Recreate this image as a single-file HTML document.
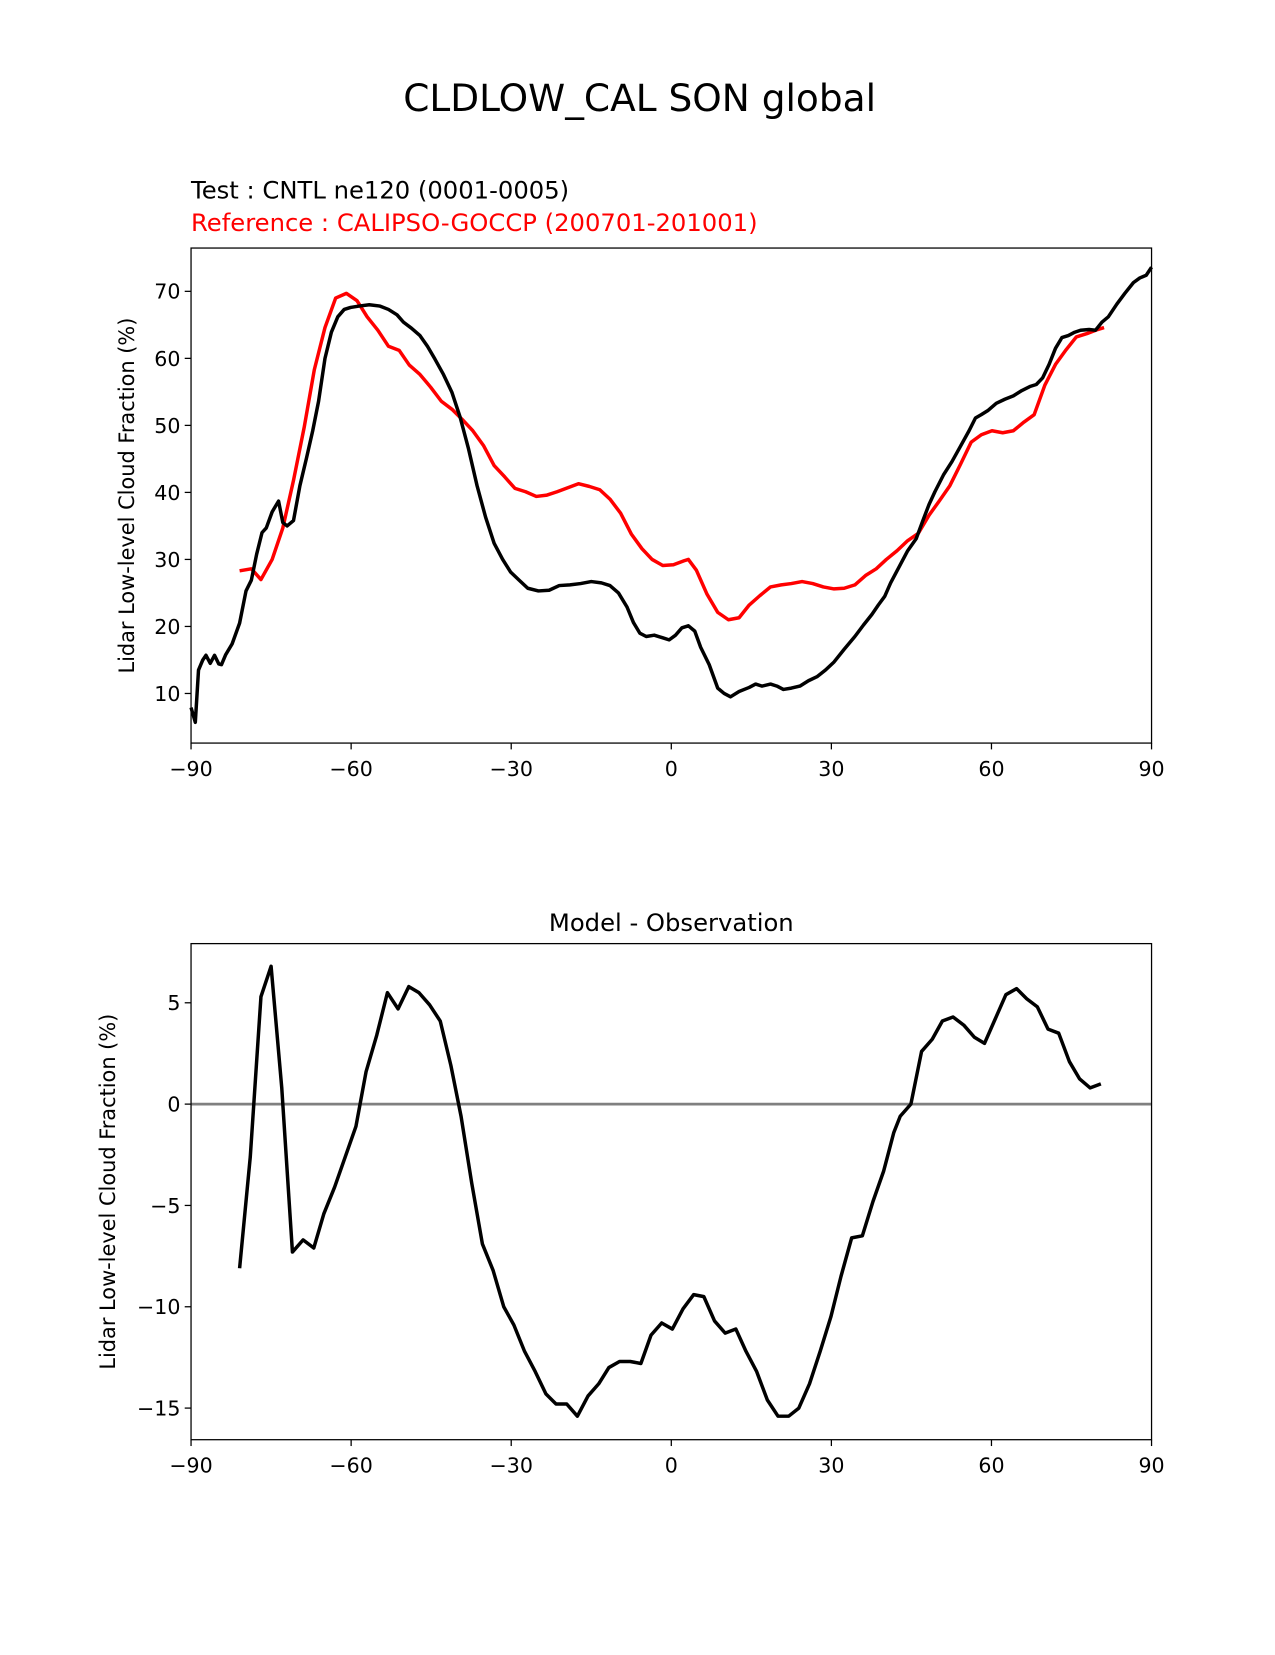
<!DOCTYPE html>
<html><head><meta charset="utf-8"><style>
body{margin:0;background:#fff}
svg text{font-family:"DejaVu Sans","Liberation Sans",sans-serif;fill:#000}
</style></head><body>
<svg id="c" width="1275" height="1650" xmlns="http://www.w3.org/2000/svg">
<g transform="scale(1.0555)">
<text x="606" y="105" font-size="35.5" text-anchor="middle">CLDLOW_CAL SON global</text>
<text x="181" y="188" font-size="23">Test : CNTL ne120 (0001-0005)</text>
<text x="181" y="219" font-size="23" style="fill:#f00">Reference : CALIPSO-GOCCP (200701-201001)</text>
<text x="636" y="882" font-size="23" text-anchor="middle">Model - Observation</text>
<g id="g1"></g>
<g id="g2"></g>
</g>
</svg>
<script>
const latModel=[-90,-89.2,-88.6,-87.8,-87.2,-86.4,-85.6,-84.8,-84.3,-83.5,-82.3,-80.9,-79.7,-78.7,-77.7,-76.7,-75.9,-74.8,-73.6,-72.8,-72.0,-70.8,-69.6,-68.4,-67.2,-66.1,-64.9,-63.7,-62.5,-61.3,-60.1,-58.5,-56.6,-54.6,-53.0,-51.4,-50.2,-48.7,-47.1,-45.7,-44.3,-42.7,-41.1,-39.6,-38.0,-36.4,-34.8,-33.2,-31.6,-30.1,-28.5,-26.9,-24.9,-22.9,-21.0,-19.0,-17.0,-15.0,-13.1,-11.5,-9.9,-8.3,-7.1,-5.9,-4.7,-3.2,-1.6,-0.4,0.8,2.0,3.2,4.4,5.5,7.1,8.7,9.9,11.1,12.7,14.6,15.8,17.0,18.6,19.8,21.0,22.5,24.1,25.7,27.3,28.9,30.5,32.4,34.4,36.0,37.6,38.8,40.0,41.1,42.7,44.3,45.9,47.1,48.3,49.4,51.0,52.6,54.2,55.8,57.0,58.1,59.3,60.9,62.5,64.1,65.7,67.2,68.4,69.6,70.8,72.0,73.2,74.4,75.6,76.7,78.3,79.5,80.7,81.9,83.5,85.0,86.6,87.8,89.0,90];
const model=[7.9,5.7,13.5,15,15.7,14.5,15.7,14.4,14.3,15.8,17.4,20.5,25.3,26.9,30.8,34,34.7,37.1,38.7,35.5,35,35.8,41,45,49.2,53.6,60,63.9,66.2,67.3,67.6,67.8,68,67.8,67.3,66.5,65.4,64.5,63.4,61.8,59.9,57.6,54.9,51.3,46.5,41,36.3,32.4,30,28.1,26.9,25.7,25.3,25.4,26.1,26.2,26.4,26.7,26.5,26.1,25,22.9,20.6,19,18.5,18.7,18.3,18,18.7,19.8,20.1,19.3,16.9,14.3,10.8,10,9.5,10.3,10.9,11.4,11.1,11.4,11.1,10.6,10.8,11.1,11.9,12.5,13.5,14.7,16.6,18.5,20.2,21.8,23.2,24.5,26.5,28.9,31.3,33.1,35.7,38.2,40.1,42.6,44.6,46.9,49.2,51.1,51.6,52.2,53.3,53.9,54.4,55.2,55.8,56.1,57.1,59.1,61.5,63.1,63.4,63.9,64.2,64.3,64.2,65.4,66.2,68.1,69.7,71.3,72,72.4,73.6];
const latObs=[-80.9,-78.7,-76.9,-74.8,-72.8,-70.8,-68.8,-66.9,-64.9,-62.9,-60.9,-58.9,-57.0,-55.0,-53.0,-51.0,-49.1,-47.1,-45.1,-43.1,-41.1,-39.2,-37.2,-35.2,-33.2,-31.2,-29.3,-27.3,-25.3,-23.3,-21.4,-19.4,-17.4,-15.4,-13.4,-11.5,-9.5,-7.5,-5.5,-3.6,-1.6,0.4,2.4,3.2,4.7,6.7,8.7,10.7,12.7,14.6,16.6,18.6,20.6,22.5,24.5,26.5,28.5,30.5,32.4,34.4,36.4,38.4,40.3,42.3,44.3,46.3,48.3,50.2,52.2,54.2,56.2,58.1,60.1,62.1,64.1,66.1,68.0,70.0,72.0,74.0,75.9,77.9,79.9,81.1];
const obs=[28.3,28.6,27,30,34.7,41.8,49.7,58.3,64.6,69,69.7,68.6,66.2,64.2,61.8,61.2,59,57.6,55.7,53.6,52.4,50.9,49.2,47,44,42.3,40.6,40.1,39.4,39.6,40.1,40.7,41.3,40.9,40.4,39,36.9,33.8,31.6,30,29.1,29.2,29.8,30,28.4,24.8,22.1,21,21.3,23.2,24.6,25.9,26.2,26.4,26.7,26.4,25.9,25.6,25.7,26.2,27.6,28.6,30,31.3,32.8,33.9,36.6,38.7,41,44.2,47.5,48.6,49.2,48.9,49.2,50.5,51.6,56,59.1,61.3,63.2,63.7,64.3,64.6];
const latDiff=[-80.9,-78.9,-76.9,-75.0,-73.0,-71.0,-69.0,-67.0,-65.1,-63.1,-61.1,-59.1,-57.2,-55.2,-53.2,-51.2,-49.2,-47.3,-45.3,-43.3,-41.3,-39.4,-37.4,-35.4,-33.4,-31.4,-29.5,-27.5,-25.5,-23.5,-21.6,-19.6,-17.6,-15.6,-13.6,-11.7,-9.7,-7.7,-5.7,-3.8,-1.8,0.2,2.2,4.2,6.1,8.1,10.1,12.1,14.0,16.0,18.0,20.0,22.0,23.9,25.9,27.9,29.9,31.8,33.8,35.8,37.8,39.8,41.7,42.9,44.9,46.9,48.9,50.8,52.8,54.8,56.8,58.7,60.7,62.7,64.7,66.6,68.6,70.6,72.6,74.6,76.5,78.5,80.5];
const diff=[-8.1,-2.6,5.3,6.8,0.8,-7.3,-6.7,-7.1,-5.4,-4.1,-2.6,-1.1,1.6,3.4,5.5,4.7,5.8,5.5,4.9,4.1,1.9,-0.6,-3.9,-6.9,-8.2,-10,-10.9,-12.2,-13.2,-14.3,-14.8,-14.8,-15.4,-14.4,-13.8,-13,-12.7,-12.7,-12.8,-11.4,-10.8,-11.1,-10.1,-9.4,-9.5,-10.7,-11.3,-11.1,-12.2,-13.2,-14.6,-15.4,-15.4,-15,-13.8,-12.2,-10.5,-8.5,-6.6,-6.5,-4.8,-3.3,-1.4,-0.6,0,2.6,3.2,4.1,4.3,3.9,3.3,3.0,4.2,5.4,5.7,5.2,4.8,3.7,3.5,2.1,1.25,0.8,1.0];
const xTicks=[-90,-60,-30,0,30,60,90];
const xTickLabels=["\u221290","\u221260","\u221230","0","30","60","90"];
const yTicks1=[10,20,30,40,50,60,70];
const yTicks2=[-15,-10,-5,0,5];
const yTickLabels2=["\u221215","\u221210","\u22125","0","5"];
const NS="http://www.w3.org/2000/svg";
function mk(tag,attrs,parent){const e=document.createElementNS(NS,tag);for(const k in attrs)e.setAttribute(k,attrs[k]);parent.appendChild(e);return e;}
function panel(g,top,bot,ymin,ymax,yt,ytl,series,zero){
  const L=181,R=1091;
  const sx=v=>L+(v+90)/180*(R-L);
  const sy=v=>bot-(v-ymin)/(ymax-ymin)*(bot-top);
  if(zero){const z=mk('line',{x1:L,x2:R,y1:sy(0),y2:sy(0),stroke:'#808080','stroke-width':2.6},g);
    
    }
  series.forEach(s=>{
    const p=mk('polyline',{points:s.x.map((x,i)=>sx(x)+','+sy(s.y[i])).join(' '),fill:'none',stroke:s.c,'stroke-width':3.3,'stroke-linejoin':'round'},g);
    
    
  });
  const f=mk('rect',{x:L,y:top,width:R-L,height:bot-top,fill:'none',stroke:'#000','stroke-width':1.2},g);
  
  
  xTicks.forEach((t,i)=>{
    mk('line',{x1:sx(t),x2:sx(t),y1:bot,y2:bot+6,stroke:'#000','stroke-width':1.2},g);
    const tx=mk('text',{x:sx(t),y:bot+31,'font-size':19.5,'text-anchor':'middle'},g);
    tx.textContent=xTickLabels[i];
    
    
  });
  yt.forEach((t,i)=>{
    mk('line',{x1:L-6,x2:L,y1:sy(t),y2:sy(t),stroke:'#000','stroke-width':1.2},g);
    const tx=mk('text',{x:L-10,y:sy(t)+7,'font-size':19.5,'text-anchor':'end'},g);
    tx.textContent=ytl[i];
    
    
  });
  const yl=mk('text',{x:0,y:0,'font-size':19.8,'text-anchor':'middle',transform:`translate(${zero?109:127},${(top+bot)/2}) rotate(-90)`},g);
  yl.textContent='Lidar Low-level Cloud Fraction (%)';
  
  
}
panel(document.getElementById('g1'),235,704,2.6,76.46,yTicks1,yTicks1.map(String),
  [{x:latObs,y:obs,c:'#f00',n:'reference-line'},{x:latModel,y:model,c:'#000',n:'test-line'}],false);
panel(document.getElementById('g2'),894,1364,-16.56,7.92,yTicks2,yTickLabels2,
  [{x:latDiff,y:diff,c:'#000',n:'difference-line'}],true);
</script>
</body></html>
